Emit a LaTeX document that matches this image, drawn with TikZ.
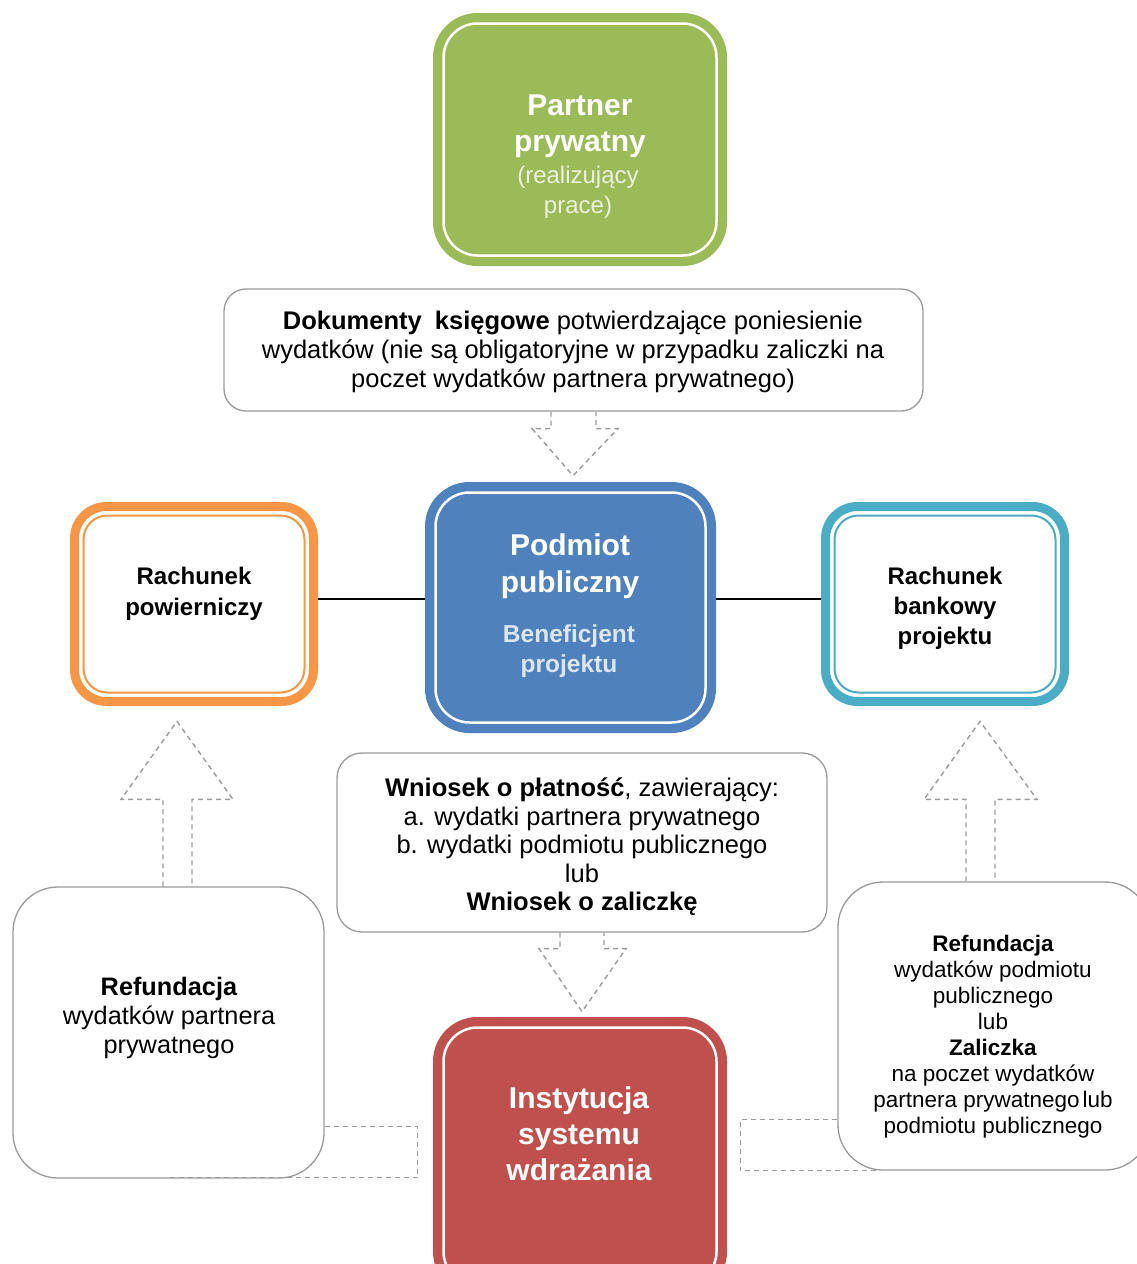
\documentclass[tikz,border=0pt]{standalone}
\usepackage{fontspec}
\setmainfont{Liberation Sans}
\usetikzlibrary{calc}
\definecolor{cgreen}{HTML}{9BBB59}
\definecolor{cblue}{HTML}{4F81BD}
\definecolor{corange}{HTML}{F79646}
\definecolor{cteal}{HTML}{4BACC6}
\definecolor{cred}{HTML}{C0504D}
\definecolor{lgreen}{HTML}{EBF1DD}
\definecolor{lblue}{HTML}{DCE6F2}
\definecolor{cgray}{HTML}{9A9A9A}
\definecolor{dgray}{HTML}{9C9C9C}
\begin{document}
\begin{tikzpicture}[x=1pt,y=1pt,
  fbox/.style={draw=#1, fill=#1, line width=9pt, rounded corners=40pt, inner sep=0pt},
  obox/.style={draw=#1, fill=white, line width=9pt, rounded corners=32pt, inner sep=0pt},
  wbox/.style={draw=cgray, fill=white, line width=1.3pt, inner sep=0pt},
  arrowdash/.style={draw=dgray, line width=1.4pt, dash pattern=on 5pt off 4pt},
  link/.style={draw=black, line width=1.3pt},
  txt/.style={align=center, inner sep=0pt}]
\useasboundingbox (0,0) rectangle (1137,-1264);
\fill[white] (0,0) rectangle (1137,-1264);

% filled double boxes
\node[fbox=cgreen, minimum width=285pt, minimum height=244pt] (partner) at (580,-139.5) {};
\draw[white, line width=2.5pt, rounded corners=34pt] ([shift={(10.5,-10.5)}]partner.north west) rectangle ([shift={(-10.5,10.5)}]partner.south east);
\node[fbox=cblue, minimum width=282pt, minimum height=242pt] (podmiot) at (570.5,-607.5) {};
\draw[white, line width=2.5pt, rounded corners=34pt] ([shift={(10.5,-10.5)}]podmiot.north west) rectangle ([shift={(-10.5,10.5)}]podmiot.south east);
\node[fbox=cred, minimum width=285pt, minimum height=270pt] (inst) at (580,-1156.5) {};
\draw[white, line width=2.5pt, rounded corners=34pt] ([shift={(10.5,-10.5)}]inst.north west) rectangle ([shift={(-10.5,10.5)}]inst.south east);

% outlined double boxes
\node[obox=corange, minimum width=239pt, minimum height=195pt] (rp) at (194,-604) {};
\draw[corange, line width=2pt, rounded corners=24pt] ([shift={(13.5,-13.5)}]rp.north west) rectangle ([shift={(-13.5,13.5)}]rp.south east);
\node[obox=cteal, minimum width=239pt, minimum height=195pt] (rb) at (945,-604) {};
\draw[cteal, line width=2pt, rounded corners=24pt] ([shift={(13.5,-13.5)}]rb.north west) rectangle ([shift={(-13.5,13.5)}]rb.south east);

% white boxes
\node[wbox, rounded corners=22pt, minimum width=699pt, minimum height=122pt] (doc) at (573.5,-350) {};
\node[wbox, rounded corners=25pt, minimum width=490pt, minimum height=179pt] (wn) at (582,-842.5) {};
\node[wbox, rounded corners=45pt, minimum width=311pt, minimum height=291pt] (refL) at (168.5,-1032.5) {};
\node[wbox, rounded corners=45pt, minimum width=312pt, minimum height=288pt] (refR) at (994,-1026) {};

% texts
\node[txt, white, font=\fontsize{30}{36}\selectfont\bfseries] (partnerT) at (580,-126) {Partner\\prywatny};
\node[txt, lgreen, font=\fontsize{24}{30}\selectfont] (partnerS) at (578,-192) {(realizujący\\prace)};
\node[txt, white, font=\fontsize{30}{37}\selectfont\bfseries] (podmiotT) at (570,-566) {Podmiot\\publiczny};
\node[txt, lblue, font=\fontsize{24.5}{30}\selectfont\bfseries] (podmiotS) at (569,-651) {Beneficjent\\projektu};
\node[txt, white, font=\fontsize{30}{36}\selectfont\bfseries] (instT) at (579,-1134) {Instytucja\\systemu\\wdrażania};
\node[txt, font=\fontsize{24}{31}\selectfont\bfseries] (rpT) at (194,-594) {Rachunek\\powierniczy};
\node[txt, font=\fontsize{24}{30}\selectfont\bfseries] (rbT) at (945,-608) {Rachunek\\bankowy\\projektu};
\node[txt, font=\fontsize{25.5}{29}\selectfont] (docT) at (573,-352) {\textbf{Dokumenty\hspace{6pt} księgowe} potwierdzające poniesienie\\wydatków (nie są obligatoryjne w przypadku zaliczki na\\poczet wydatków partnera prywatnego)};
\node[txt, font=\fontsize{25.5}{28.5}\selectfont] (wnT) at (582,-847) {\textbf{Wniosek o płatność}, zawierający:\\a. wydatki partnera prywatnego\\b. wydatki podmiotu publicznego\\lub\\\textbf{Wniosek o zaliczkę}};
\node[txt, font=\fontsize{25.3}{29}\selectfont] (refLT) at (169,-1018) {\textbf{Refundacja}\\wydatków partnera\\prywatnego};
\node[txt, font=\fontsize{22.5}{26}\selectfont] (refRT) at (993,-1036.5) {\textbf{Refundacja}\\wydatków podmiotu\\publicznego\\lub\\\textbf{Zaliczka}\\na poczet wydatków\\partnera prywatnego\hspace{3pt}lub\\podmiotu publicznego};

% links
\draw[link] ([yshift=5]rp.east) -- ([yshift=5]rp.east -| podmiot.west);
\draw[link] ([yshift=5]rb.west -| podmiot.east) -- ([yshift=5]rb.west);

% dashed block arrows
\draw[arrowdash] ($(doc.south)+(-22.5,0)$) -- ++(0,-17) -- ++(-19,0) -- ($(doc.south)+(-0.5,-64)$)
  -- ($(doc.south)+(44.5,-17)$) -- ++(-22,0) -- ++(0,17);
\draw[arrowdash] ($(wn.south)+(-22,0)$) -- ++(0,-16) -- ++(-21,0) -- ($(wn.south)+(0,-79)$)
  -- ($(wn.south)+(44,-16)$) -- ++(-22,0) -- ++(0,16);
\draw[arrowdash] ($(refL.north)+(-5.5,0)$) -- ++(0,87) -- ++(-42,0) -- ($(refL.north)+(8.5,165)$)
  -- ($(refL.north)+(64.5,87)$) -- ++(-41,0) -- ++(0,-87);
\draw[arrowdash] ($(refR.north)+(-28,0)$) -- ++(0,82) -- ++(-42,0) -- ($(refR.north)+(-14,160)$)
  -- ($(refR.north)+(43,82)$) -- ++(-42,0) -- ++(0,-82);
\draw[arrowdash] ($(refL.south east)+(0,52)$) -- ++(93,0) -- ++(0,-51) -- ++(-252,0);
\draw[arrowdash] ($(refR.south west)+(0,51)$) -- ++(-97,0) -- ++(0,-51) -- ++(139,0);
\end{tikzpicture}
\end{document}
